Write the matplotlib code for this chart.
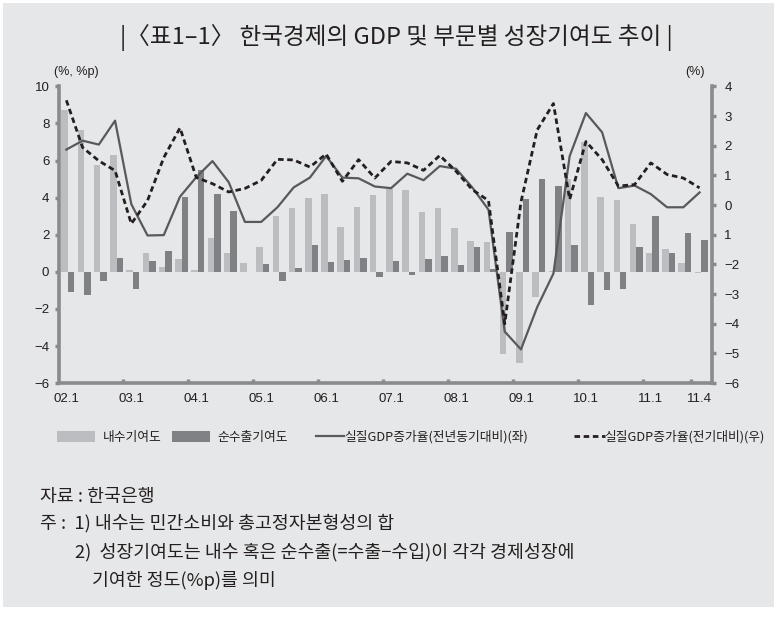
import numpy as np
import matplotlib
matplotlib.use("Agg")
import matplotlib.pyplot as plt
from matplotlib.patches import Patch, Rectangle
from matplotlib.lines import Line2D

plt.rcParams['font.family'] = ['Liberation Sans', 'Noto Sans CJK KR', 'DejaVu Sans']

# 분기 (02.1 ~ 11.4)
quarters = [f"{y:02d}.{q}" for y in range(2, 12) for q in range(1, 5)]
tick_labels = ['02.1', '03.1', '04.1', '05.1', '06.1', '07.1', '08.1', '09.1', '10.1', '11.1', '11.4']
tick_idx = [0, 4, 8, 12, 16, 20, 24, 28, 32, 36, 39]

# 내수기여도 (%p, 좌)
domestic = [8.7, 7.65, 5.78, 6.3, 0.1, 1.02, 0.25, 0.68, 0.12, 1.82, 1.02, 0.48,
            1.32, 3.03, 3.46, 3.99, 4.21, 2.44, 3.51, 4.15, 4.47, 4.42, 3.24, 3.46,
            2.39, 1.64, 1.59, -4.45, -4.9, -1.35, 0.05, 5.0, 6.99, 4.02, 3.87, 2.58,
            1.02, 1.25, 0.46, -0.05]
# 순수출기여도 (%p, 좌)
net_export = [-1.07, -1.23, -0.48, 0.73, -0.93, 0.57, 1.1, 4.05, 5.5, 4.22, 3.3, -0.03,
              0.41, -0.48, 0.2, 1.43, 0.52, 0.62, 0.73, -0.27, 0.57, -0.16, 0.68, 0.84,
              0.36, 1.32, 0.14, 2.13, 3.9, 5.01, 4.65, 1.43, -1.78, -0.97, -0.94, 1.32,
              3.03, 1.02, 2.12, 1.69]
# 실질GDP증가율 전년동기대비 (%, 좌)
gdp_yoy = [6.59, 7.07, 6.86, 8.15, 3.65, 1.96, 1.98, 4.05, 5.1, 5.97, 4.83, 2.69,
           2.69, 3.48, 4.55, 5.08, 6.24, 5.08, 5.04, 4.6, 4.51, 5.29, 4.94, 5.7,
           5.56, 4.55, 3.35, -3.22, -4.18, -1.9, -0.09, 6.24, 8.56, 7.52, 4.51, 4.65,
           4.19, 3.48, 3.48, 4.28]
# 실질GDP증가율 전기대비 (%, 우)
gdp_qoq = [3.53, 1.94, 1.49, 1.16, -0.63, 0.15, 1.6, 2.6, 0.93, 0.72, 0.44, 0.56,
           0.83, 1.54, 1.52, 1.28, 1.72, 0.8, 1.53, 0.91, 1.47, 1.42, 1.17, 1.67,
           1.14, 0.52, 0.15, -4.0, 0.1, 2.53, 3.42, 0.19, 2.14, 1.53, 0.64, 0.69,
           1.42, 1.03, 0.91, 0.58]

left_ticks = [-6, -4, -2, 0, 2, 4, 6, 8, 10]
left_labels = ['−6', '−4', '−2', '0', '2', '4', '6', '8', '10']
right_ticks = [-6, -5, -4, -3, -2, -1, 0, 1, 2, 3, 4]
right_labels = ['−6', '−5', '−4', '−3', '−2', '1', '0', '1', '2', '3', '4']

legend_labels = ['내수기여도', '순수출기여도', '실질GDP증가율(전년동기대비)(좌)', '실질GDP증가율(전기대비)(우)']

bg = '#e6e7e8'
axis_grey = '#8a8b8d'
light_c = '#bcbdc0'
dark_c = '#808184'
solid_c = '#58595b'
dash_c = '#231f20'
kr = ['Noto Sans CJK KR', 'DejaVu Sans']

x = np.arange(len(quarters))

fig = plt.figure(figsize=(7.77, 6.21), dpi=100)
fig.patch.set_facecolor('white')
fig.patches.append(Rectangle((0.004, 0.022), 0.992, 0.973, transform=fig.transFigure,
                             facecolor=bg, edgecolor='none', zorder=-10))

ax = fig.add_axes([0.076, 0.383, 0.840, 0.478])
ax.set_facecolor('none')
ax.bar(x - 0.1, domestic, 0.4, color=light_c, zorder=2)
ax.bar(x + 0.3, net_export, 0.4, color=dark_c, zorder=2)
ax.plot(x, gdp_yoy, color=solid_c, lw=1.6, zorder=3)

ax.set_xlim(-0.45, 39.75)
ax.set_ylim(-6, 10)
ax.set_yticks(left_ticks)
ax.set_yticklabels(left_labels)
ax.set_xticks(tick_idx)
ax.set_xticklabels(tick_labels)
ax.set_xticks([i - 0.5 for i in tick_idx[1:]], minor=True)
ax.tick_params(axis='x', which='major', length=0, pad=7, labelsize=9.5, colors='#231f20')
ax.tick_params(axis='x', which='minor', direction='in', length=3, width=2.5, color=axis_grey)
ax.tick_params(axis='y', direction='out', length=3, width=2.5, color=axis_grey,
               pad=4, labelsize=9.5, labelcolor='#231f20')
for s in ['top', 'right']:
    ax.spines[s].set_visible(False)
for s in ['left', 'bottom']:
    ax.spines[s].set_color(axis_grey)
    ax.spines[s].set_linewidth(2.6)

ax2 = ax.twinx()
ax2.plot(x, gdp_qoq, color=dash_c, lw=2.0, ls=(0, (2.0, 1.3)), zorder=4)
ax2.set_ylim(-6, 4)
ax2.set_yticks(right_ticks)
ax2.set_yticklabels(right_labels)
ax2.tick_params(axis='y', direction='out', length=3, width=2.5, color=axis_grey,
                pad=6, labelsize=9.5, labelcolor='#231f20')
for s in ['top', 'left', 'bottom']:
    ax2.spines[s].set_visible(False)
ax2.spines['right'].set_color(axis_grey)
ax2.spines['right'].set_linewidth(2.6)

fig.text(0.098, 0.884, '(%, %p)', ha='center', va='center', fontsize=9, color='#231f20')
fig.text(0.894, 0.884, '(%)', ha='center', va='center', fontsize=9, color='#231f20')

fig.text(0.51, 0.94, '|〈표1–1〉 한국경제의 GDP 및 부문별 성장기여도 추이 |',
         ha='center', va='center', fontsize=17, color='#231f20', family=kr,
         fontweight='medium')

# 범례: 항목별 위치를 따로 지정
handles = [Patch(facecolor=light_c, edgecolor='none'),
           Patch(facecolor=dark_c, edgecolor='none'),
           Line2D([], [], color=solid_c, lw=1.6),
           Line2D([], [], color=dash_c, lw=2.0, ls=(0, (2.0, 1.3)))]
leg_x = [57, 172, 316, 574]
leg_len = [3.0, 3.0, 2.2, 2.4]
leg_pad = [0.55, 0.55, 0.0, 0.0]
for h, lab, lx, hl, tp in zip(handles, legend_labels, leg_x, leg_len, leg_pad):
    lg = fig.legend([h], [lab], loc='center left', bbox_to_anchor=(lx / 777, 0.296),
                    frameon=False, handlelength=hl, handleheight=0.9, handletextpad=tp,
                    borderpad=0, borderaxespad=0, prop={'family': kr, 'size': 9.2})
    for t in lg.get_texts():
        t.set_color('#231f20')

note_font = dict(fontsize=13.2, color='#231f20', va='center', family=kr)
fig.text(0.051, 0.200, '자료 : 한국은행', **note_font)
fig.text(0.051, 0.158, '주 :  1) 내수는 민간소비와 총고정자본형성의 합', **note_font)
fig.text(0.096, 0.111, '2)  성장기여도는 내수 혹은 순수출(=수출−수입)이 각각 경제성장에', **note_font)
fig.text(0.118, 0.066, '기여한 정도(%p)를 의미', **note_font)

fig.savefig('out.png', dpi=100, facecolor=fig.get_facecolor())
